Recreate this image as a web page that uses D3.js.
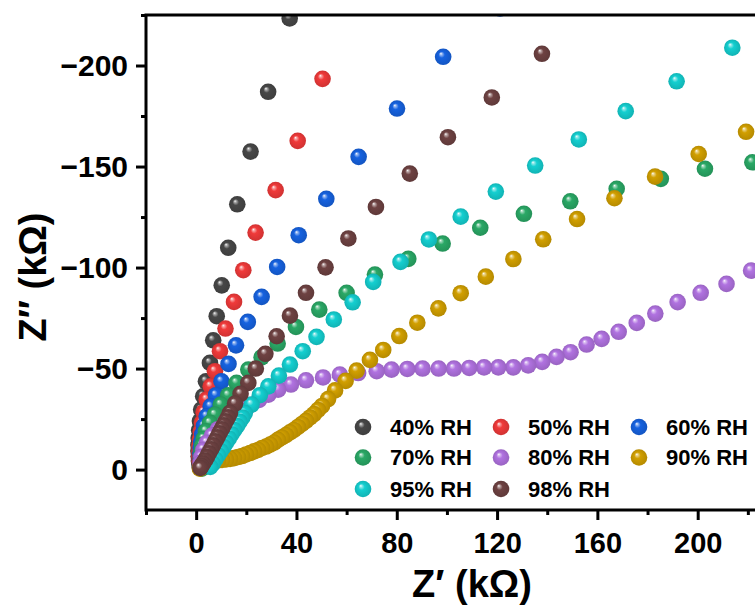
<!DOCTYPE html>
<html>
<head>
<meta charset="utf-8">
<script src="https://cdn.jsdelivr.net/npm/d3@7"></script>
<style>
  body { margin: 0; background: #fff; }
  svg { display: block; font-family: "Liberation Sans", Arial, sans-serif; font-weight: bold; }
</style>
</head>
<body>
<svg id="chart" width="755" height="606"></svg>
<script>
// Axis ticks
const xTicks = [0, 40, 80, 120, 160, 200];
const xMinorTicks = [-20, 20, 60, 100, 140, 180, 220];
const yTicks = [0, -50, -100, -150, -200];
const yMinorTicks = [-25, -75, -125, -175, -225];

// Series names and colours
const seriesNames = ["40% RH", "50% RH", "60% RH", "70% RH", "80% RH", "90% RH", "95% RH", "98% RH"];
const seriesColors = ["#474747", "#f03a3a", "#1662e0", "#2aa866", "#b072e0", "#d19f00", "#14cfd0", "#6e4242"];

// Impedance data, [Z' (kΩ), Z'' (kΩ)]
const rh40 = [[37.3,-223.3],[28.7,-187.0],[21.7,-157.4],[16.4,-131.3],[12.8,-109.8],[10.2,-91.2],[8.2,-75.9],[6.8,-64.0],[5.5,-52.8],[3.9,-43.7],[2.8,-36.3],[2.0,-29.7],[1.5,-24.0],[1.2,-19.5],[1.0,-15.6],[0.9,-12.2],[0.9,-9.2],[1.0,-6.6],[1.1,-4.3],[1.3,-2.4],[1.5,-0.9]];
const rh50 = [[50.4,-193.4],[40.5,-162.7],[31.7,-138.3],[23.7,-117.3],[18.8,-98.7],[15.1,-83.0],[11.7,-69.8],[9.5,-58.6],[7.5,-48.7],[5.8,-41.2],[4.2,-34.7],[3.0,-28.4],[2.3,-23.2],[1.8,-18.8],[1.5,-15.0],[1.3,-11.7],[1.3,-8.8],[1.3,-6.3],[1.4,-4.1],[1.6,-2.3],[1.8,-0.9]];
const rh60 = [[121.2,-228.2],[98.5,-204.3],[80.1,-178.7],[64.8,-154.8],[51.9,-134.0],[40.9,-116.0],[32.3,-100.3],[26.1,-85.5],[20.6,-73.1],[15.9,-61.5],[12.9,-52.3],[10.1,-43.7],[7.9,-36.8],[5.8,-31.3],[4.2,-26.4],[3.1,-21.6],[2.4,-17.5],[2.0,-13.9],[1.8,-10.7],[1.7,-7.8],[1.8,-5.3],[1.9,-3.1],[2.0,-1.3]];
const rh70 = [[221.8,-152.1],[202.9,-148.9],[185.3,-143.9],[167.7,-139.0],[149.2,-132.8],[130.7,-126.6],[113.3,-119.7],[98.3,-111.9],[84.6,-104.3],[71.3,-96.5],[60.0,-87.5],[49.1,-79.2],[39.8,-70.6],[32.5,-62.4],[26.1,-55.6],[20.8,-49.5],[16.1,-42.9],[12.8,-36.8],[9.8,-32.2],[7.5,-27.2],[5.5,-23.1],[3.9,-19.0],[3.0,-15.3],[2.4,-12.0],[2.1,-9.0],[2.0,-6.3],[2.0,-3.9],[2.1,-1.8],[2.2,-0.5]];
const rh80 = [[221.3,-98.5],[211.5,-91.9],[201.2,-87.5],[192.0,-82.9],[183.1,-77.2],[175.7,-72.6],[168.5,-68.2],[161.7,-64.7],[155.7,-61.9],[149.3,-58.1],[143.7,-55.8],[138.0,-53.3],[132.4,-51.6],[126.5,-50.6],[120.5,-50.6],[114.8,-50.6],[108.9,-50.3],[102.8,-50.0],[96.7,-50.0],[90.3,-50.0],[84.2,-49.8],[77.9,-49.5],[72.0,-48.7],[64.6,-47.8],[57.3,-47.0],[50.6,-45.6],[43.8,-44.2],[37.8,-42.1],[32.7,-39.6],[28.8,-37.1],[25.1,-34.5],[21.5,-31.9],[17.9,-29.2],[14.7,-26.2],[11.5,-23.2],[8.7,-20.0],[6.3,-16.8],[4.3,-13.3],[2.9,-9.8],[2.1,-6.3],[1.8,-3.3],[1.8,-1.0]];
const rh90 = [[219.3,-167.2],[200.4,-156.2],[183.0,-145.0],[166.8,-134.3],[151.9,-124.0],[138.4,-114.0],[126.5,-104.2],[115.5,-95.5],[105.5,-87.3],[96.6,-79.8],[88.2,-72.7],[81.0,-66.1],[74.6,-59.2],[69.3,-54.3],[64.0,-49.0],[59.6,-43.9],[55.4,-39.2],[52.6,-34.9],[50.2,-31.5],[48.6,-29.5],[47.0,-27.5],[45.4,-25.8],[43.8,-24.1],[42.2,-22.6],[40.6,-21.1],[39.0,-19.6],[37.4,-18.4],[35.8,-17.1],[34.2,-15.9],[32.6,-14.7],[31.1,-13.4],[29.5,-12.4],[27.9,-11.4],[26.3,-10.7],[24.7,-9.7],[23.1,-9.0],[21.5,-8.2],[19.9,-7.5],[18.3,-6.7],[16.7,-6.2],[15.1,-5.7],[13.5,-5.3],[11.9,-5.0],[10.3,-4.8],[8.7,-4.5],[7.1,-4.3],[5.5,-3.8],[3.9,-3.0],[2.5,-1.8],[1.5,-0.5]];
const rh95 = [[213.8,-208.8],[191.6,-192.2],[171.3,-177.4],[152.6,-163.4],[135.2,-150.5],[119.5,-137.6],[105.5,-125.2],[92.8,-113.9],[81.5,-102.8],[70.6,-92.9],[62.4,-82.8],[54.9,-74.3],[48.0,-65.7],[42.5,-58.6],[37.4,-52.0],[33.0,-46.5],[28.8,-41.2],[25.4,-36.8],[22.1,-32.2],[19.4,-28.0],[18.4,-25.8],[17.3,-23.7],[16.3,-21.6],[15.2,-19.6],[14.1,-17.5],[13.0,-15.4],[11.9,-13.3],[10.9,-11.2],[9.8,-9.2],[8.7,-7.1],[7.6,-5.0],[6.6,-3.0],[5.6,-1.3]];
const rh98 = [[137.9,-205.8],[117.9,-184.2],[100.4,-164.5],[85.2,-146.5],[71.7,-130.0],[60.7,-114.4],[51.6,-100.1],[43.8,-87.5],[37.4,-76.2],[32.1,-66.0],[27.6,-57.3],[23.8,-50.0],[20.8,-42.9],[17.7,-37.5],[15.5,-32.7],[13.5,-28.1],[12.7,-25.9],[11.8,-23.9],[11.0,-21.9],[10.2,-20.0],[9.3,-18.0],[8.5,-16.0],[7.6,-14.0],[6.8,-12.0],[6.0,-10.1],[5.1,-8.1],[4.3,-6.2],[3.5,-4.5],[2.7,-3.0],[2.1,-1.8],[1.7,-0.8]];

const seriesData = [rh40, rh50, rh60, rh70, rh80, rh90, rh95, rh98];

(function () {
  const svg = d3.select("#chart");
  const plotLeft = 146, plotRight = 798, plotTop = 15, plotBottom = 510;

  const x = d3.scaleLinear().domain([-20, 240]).range([plotLeft, plotRight]);
  const y = d3.scaleLinear().domain([20, -225]).range([plotBottom, plotTop]);

  // Shaded sphere gradients
  const defs = svg.append("defs");
  seriesColors.forEach((c, i) => {
    const base = d3.color(c);
    const g = defs.append("radialGradient")
      .attr("id", "ball" + i)
      .attr("cx", "50%").attr("cy", "50%").attr("r", "50%")
      .attr("fx", "36%").attr("fy", "30%");
    g.append("stop").attr("offset", "0%").attr("stop-color", "#ffffff");
    g.append("stop").attr("offset", "13%").attr("stop-color", d3.interpolateRgb(c, "#ffffff")(0.55));
    g.append("stop").attr("offset", "38%").attr("stop-color", c);
    g.append("stop").attr("offset", "100%").attr("stop-color", base.darker(0.4).formatHex());
  });

  defs.append("clipPath").attr("id", "plotClip")
    .append("rect")
    .attr("x", plotLeft).attr("y", plotTop)
    .attr("width", plotRight - plotLeft).attr("height", plotBottom - plotTop);

  // Data points
  const plot = svg.append("g").attr("clip-path", "url(#plotClip)");
  seriesData.forEach((pts, i) => {
    plot.append("g")
      .selectAll("circle")
      .data(pts)
      .join("circle")
      .attr("cx", d => x(d[0]))
      .attr("cy", d => y(d[1]))
      .attr("r", 8.3)
      .attr("fill", `url(#ball${i})`);
  });

  // Axes
  const xAxis = svg.append("g").attr("transform", `translate(0,${plotBottom})`)
    .call(d3.axisBottom(x).tickValues(xTicks).tickSize(10).tickPadding(12).tickSizeOuter(0).tickFormat(d3.format("d")));
  const xMinor = svg.append("g").attr("transform", `translate(0,${plotBottom})`)
    .call(d3.axisBottom(x).tickValues(xMinorTicks).tickSize(5).tickSizeOuter(0).tickFormat(""));
  const yAxis = svg.append("g").attr("transform", `translate(${plotLeft},0)`)
    .call(d3.axisLeft(y).tickValues(yTicks).tickSize(10).tickPadding(8).tickSizeOuter(0)
      .tickFormat(d => d < 0 ? "\u2212" + Math.abs(d) : String(d)));
  const yMinor = svg.append("g").attr("transform", `translate(${plotLeft},0)`)
    .call(d3.axisLeft(y).tickValues(yMinorTicks).tickSize(5).tickSizeOuter(0).tickFormat(""));

  [xAxis, xMinor, yAxis, yMinor].forEach(g => {
    g.select(".domain").remove();
    g.selectAll(".tick line").attr("stroke", "#000").attr("stroke-width", 3);
    g.selectAll(".tick text")
      .attr("fill", "#000")
      .style("font-weight", "bold")
      .style("font-family", '"Liberation Sans", Arial, sans-serif');
  });
  xAxis.selectAll(".tick text").style("font-size", "29px");
  yAxis.selectAll(".tick text").style("font-size", "30px");

  // Frame: left, bottom and top lines
  svg.append("path")
    .attr("d", `M${plotRight},${plotTop}H${plotLeft}V${plotBottom}H${plotRight}`)
    .attr("fill", "none")
    .attr("stroke", "#000")
    .attr("stroke-width", 3)
    .attr("stroke-linecap", "square");

  // Axis titles
  svg.append("text")
    .attr("x", 472).attr("y", 597)
    .attr("text-anchor", "middle")
    .style("font-size", "38px")
    .text("Z\u2032 (k\u03A9)");

  svg.append("text")
    .attr("transform", "translate(46,277) rotate(-90)")
    .attr("text-anchor", "middle")
    .style("font-size", "38px")
    .text("Z\u2033 (k\u03A9)");

  // Legend
  const legendRows = [427, 457.5, 489];
  const legend = svg.append("g");
  seriesNames.forEach((name, i) => {
    const col = i % 3, row = Math.floor(i / 3);
    const cx = 363 + col * 138, cy = legendRows[row];
    legend.append("circle").attr("cx", cx).attr("cy", cy).attr("r", 8.3)
      .attr("fill", `url(#ball${i})`);
    legend.append("text")
      .attr("x", cx + 27).attr("y", cy)
      .attr("dy", "0.36em")
      .style("font-size", "22px")
      .text(name);
  });
})();
</script>
</body>
</html>
